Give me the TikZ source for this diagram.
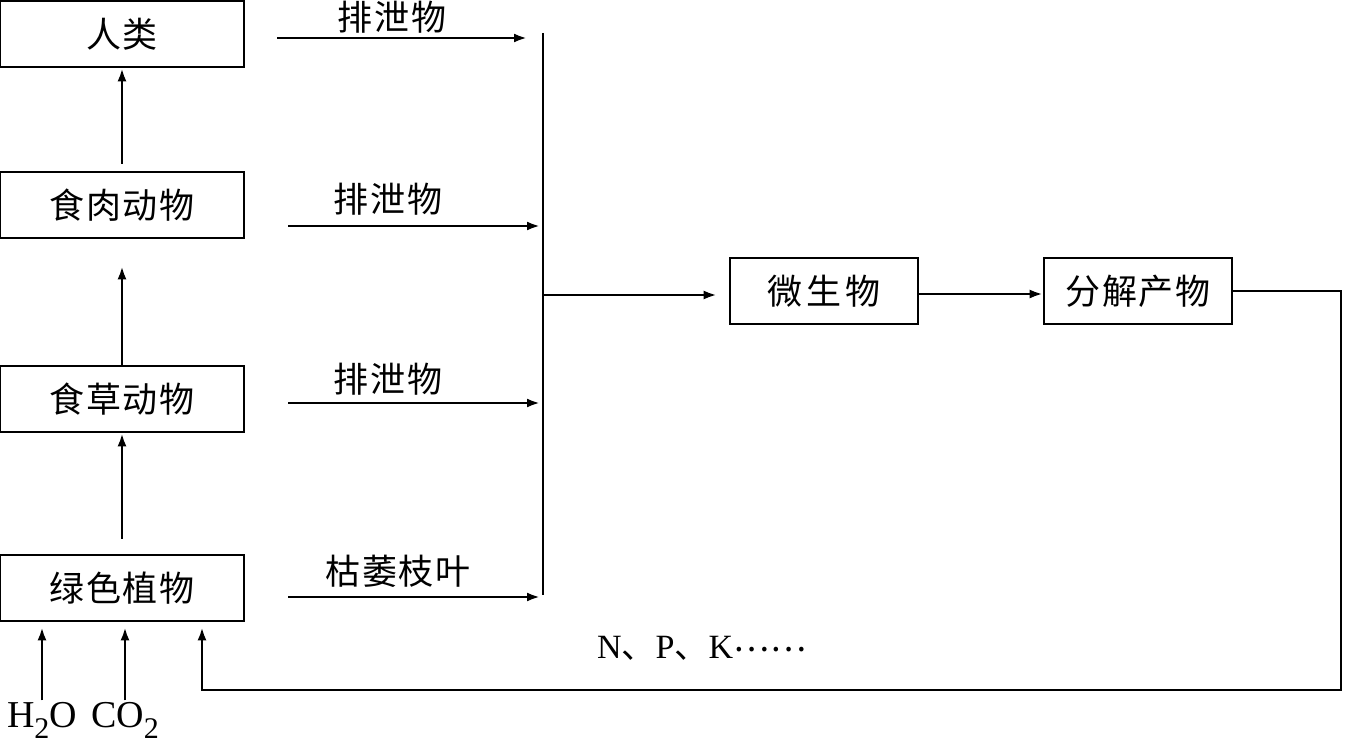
\documentclass[tikz,border=0pt]{standalone}
\usepackage{fontspec}
\setmainfont{Liberation Serif}
\newfontfamily\cjk[LetterSpace=5]{Noto Sans CJK SC}
\usetikzlibrary{arrows.meta}
\newcommand{\lowsub}[1]{\raisebox{-11pt}{\fontsize{30}{30}\selectfont #1}}
\tikzset{box/.style={draw,line width=2.6pt,minimum width=244pt,minimum height=66pt,inner sep=0pt,font=\cjk\fontsize{35}{40}\selectfont},
  lbl/.style={font=\cjk\fontsize{35}{40}\selectfont},
  arr/.style={-{Latex[length=13pt,width=9pt]},line width=2.6pt}}

\begin{document}
\begin{tikzpicture}[x=1pt,y=-1pt]
\useasboundingbox (0,0) rectangle (1346,746);
% food chain boxes
\node[box] (human) at (122,34) {人类};
\node[box] (carn) at (122,205) {食肉动物};
\node[box] (herb) at (122,399) {食草动物};
\node[box] (plant) at (122,588) {绿色植物};
\node[box,minimum width=188pt] (micro) at (824,291) {微\hspace{4pt}生\hspace{4pt}物};
\node[box,minimum width=188pt] (prod) at (1138,291) {分解产物};

\draw[arr] ([yshift=7pt]carn.north) -- (human.south);
\draw[arr] (herb.north) -- ([yshift=-27pt]carn.south);
\draw[arr] ([yshift=15pt]plant.north) -- (herb.south);

% inputs of plants
\node[font=\fontsize{38}{40}\selectfont] (water) at (42,720) {H\lowsub{2}O};
\node[font=\fontsize{38}{40}\selectfont] (co2) at (125,720) {CO\lowsub{2}};
\draw[arr] ([yshift=-2pt]water.north) -- ([yshift=-5pt]water.north |- plant.south);
\draw[arr] ([yshift=-2pt]co2.north) -- ([yshift=-5pt]co2.north |- plant.south);

% collecting line
\coordinate (top) at (543,33);
\coordinate (bot) at (543,595);
\draw[line width=2.6pt] (top) -- (bot);

\coordinate (s1) at (277,38);
\coordinate (s2) at (288,226);
\coordinate (s3) at (288,403);
\coordinate (s4) at (288,597);
\draw[arr,shorten >=16pt] (s1) -- (s1 -| top);
\draw[arr,shorten >=3pt] (s2) -- (s2 -| top);
\draw[arr,shorten >=3pt] (s3) -- (s3 -| top);
\draw[arr,shorten >=3pt] (s4) -- (s4 -| top);
\node[lbl] (l1) at (392,17) {排泄物};
\node[lbl] (l2) at (388,199) {排泄物};
\node[lbl] (l3) at (388,379) {排泄物};
\node[lbl] (l4) at (398,571) {枯萎枝叶};

\coordinate (mid) at (543,295);
\draw[arr,shorten >=12pt] (mid) -- (mid -| micro.west);
\draw[arr] ([yshift=-3pt]micro.east) -- ([yshift=-3pt]prod.west);

% back to the plants
\coordinate (corner) at (1341,690);
\coordinate (ret) at (202,690);
\draw[arr] (prod.east) -- (prod.east -| corner) -- (corner) -- (ret) -- ([yshift=-5pt]ret |- plant.south);
\node[font=\fontsize{34}{40}\selectfont] (npk) at (702,648) {N{\cjk 、}P{\cjk 、}K{\cjk\raisebox{7pt}{……}}};
\end{tikzpicture}
\end{document}
